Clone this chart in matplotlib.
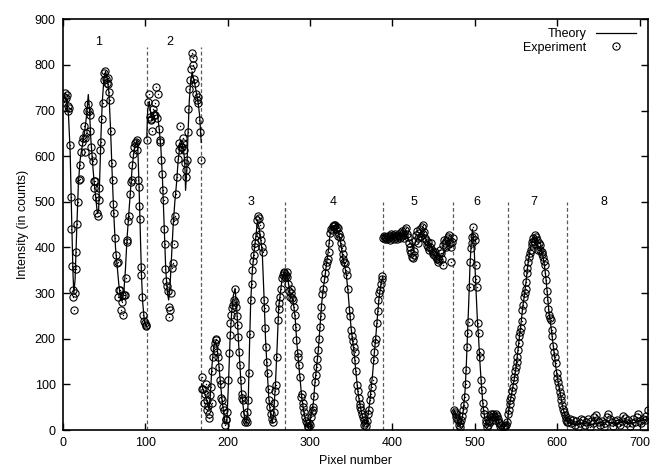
import matplotlib
matplotlib.use("Agg")
import matplotlib.pyplot as plt
from matplotlib.lines import Line2D
from matplotlib.legend_handler import HandlerTuple
import numpy as np

plt.rcParams['font.family'] = ['Liberation Sans', 'DejaVu Sans']

# ---- section boundaries and labels ----
boundaries = [102, 168, 270, 388, 474, 540, 612]
boundary_tops = [840, 840, 500, 500, 500, 500, 500]
section_labels = ['1', '2', '3', '4', '5', '6', '7', '8']
section_label_x = [44, 130, 228, 328, 426, 502, 571, 656]
section_label_y = [850, 850, 500, 500, 500, 500, 500, 500]

# ---- theory curves, one per section ----
theory1_x = [0, 3, 5, 7, 9, 11, 12.5, 13.5, 15, 17, 19, 21, 23, 25, 27, 29, 31, 32.5, 34, 36, 38, 40, 42, 43.5,
             45, 46.5, 48, 50, 52, 54, 56, 58, 60, 62, 64, 66, 68, 70, 72, 74, 76, 78, 80, 82, 84, 86, 88,
             90, 91, 92.5, 94, 95.5, 97, 99, 101]
theory1_y = [725, 730, 715, 690, 610, 450, 340, 300, 330, 440, 540, 590, 615, 635, 660, 690, 735, 700, 640, 590,
             545, 510, 475, 480, 560, 650, 720, 770, 785, 770, 740, 660, 560, 470, 400, 360, 320, 290, 282, 300,
             350, 420, 470, 520, 570, 605, 625, 635, 620, 540, 440, 340, 280, 240, 228]

theory2_x = [102, 103, 105, 107, 109, 111, 113, 115, 117, 119, 121, 123, 125, 127, 128.5, 130, 132, 134, 136,
             138, 140, 142, 144, 146, 148, 149, 150.5, 152, 153.5, 155, 157, 158.5, 160, 162, 164, 166, 168]
theory2_y = [640, 700, 720, 690, 680, 700, 700, 690, 660, 620, 550, 450, 350, 300, 285, 310, 380, 450, 500,
             540, 590, 620, 630, 620, 590, 525, 570, 650, 720, 760, 785, 770, 760, 740, 720, 690, 630]

theory3_x = [168.5, 170, 172, 174, 176, 177.5, 179, 181, 183, 185, 187, 189, 191, 193, 195, 197, 199, 201, 203,
             205, 207, 209, 211, 213, 215, 217, 219, 221, 223, 225, 226.5, 228, 230, 232, 234, 236, 238, 240,
             242, 244, 246, 248, 250, 252, 254, 256, 258, 260, 262, 264, 266, 268, 270]
theory3_y = [100, 90, 80, 70, 55, 45, 75, 140, 180, 195, 185, 150, 110, 70, 40, 15, 15, 100, 200, 260, 295,
             310, 270, 200, 140, 80, 50, 20, 15, 60, 180, 280, 350, 390, 420, 455, 445, 420, 390, 300, 200,
             130, 70, 35, 15, 40, 100, 180, 270, 300, 330, 345, 340]

theory4_x = [270, 272, 274, 276, 278, 280, 282, 284, 286, 288, 290, 292, 294, 296, 298, 300, 302, 304, 306,
             308, 310, 312, 314, 316, 318, 320, 322, 324, 326, 328, 330, 332, 334, 336, 338, 340, 342, 344,
             346, 348, 350, 352, 354, 356, 358, 360, 362, 364, 366, 368, 370, 372, 374, 376, 378, 380, 382,
             384, 386, 388]
theory4_y = [340, 340, 320, 295, 290, 275, 245, 190, 150, 110, 70, 45, 25, 12, 8, 20, 40, 60, 105, 140, 175,
             225, 275, 310, 335, 365, 390, 425, 440, 448, 448, 445, 435, 420, 400, 375, 360, 340, 305, 260,
             220, 190, 160, 120, 85, 60, 42, 25, 15, 15, 30, 55, 90, 125, 170, 210, 255, 295, 320, 335]

theory5_x = [388, 395, 400, 405, 410, 415, 420, 425, 430, 435, 440, 445, 450, 455, 460, 465, 470, 474]
theory5_y = [420, 420, 425, 425, 428, 430, 415, 400, 420, 430, 420, 405, 395, 385, 380, 395, 400, 405]

theory6_x = [474, 476, 478, 480, 482, 484, 486, 488, 489.5, 491, 492.5, 494, 495.5, 497, 498.5, 500, 501.5,
             503, 504.5, 506, 508, 510, 512, 514, 516, 518, 520, 522, 524, 526, 528, 530, 534, 538, 540]
theory6_y = [40, 35, 25, 12, 8, 20, 45, 85, 140, 210, 280, 360, 410, 440, 420, 360, 300, 240, 200, 150, 95,
             50, 25, 10, 12, 20, 30, 30, 25, 30, 20, 12, 8, 12, 25]

theory7_x = [540, 542, 544, 546, 548, 550, 552, 554, 556, 558, 560, 562, 564, 566, 568, 570, 572, 574, 576,
             578, 580, 582, 584, 586, 588, 590, 592, 594, 596, 598, 600, 602, 604, 606, 608, 610, 612]
theory7_y = [30, 55, 75, 95, 115, 140, 172, 205, 235, 270, 295, 325, 360, 385, 405, 418, 425, 420, 405, 400,
             395, 385, 365, 335, 295, 255, 230, 200, 170, 140, 115, 95, 75, 55, 40, 25, 18]

theory8_x = [612, 620, 630, 640, 650, 660, 670, 680, 690, 700, 710]
theory8_y = [18, 12, 15, 12, 15, 18, 15, 18, 15, 20, 25]

# ---- measured intensities, one per section ----
exp1_x = [1, 2, 3, 4, 5, 6, 7, 8, 9, 10, 10.5, 11, 12, 13, 13.7, 14.5, 15.5, 16.5, 17.5, 18.5, 19.5, 20.5,
          21.5, 22.5, 23.5, 24.5, 25.5, 26.5, 27.5, 28.5, 29.5, 30.5, 31.5, 32.5, 33.5, 34.5, 35.5, 36.5,
          37.5, 38.5, 39.5, 40.5, 41.5, 42.5, 43.5, 44.5, 45.5, 46.5, 47.5, 48.5, 49.5, 50.5, 51.5, 52.5,
          53.5, 54.5, 55.5, 56.5, 57.5, 58.5, 59.5, 60.5, 61.5, 62.5, 63.5, 64.5, 65.5, 66.5, 67.5, 68.5,
          69.5, 70.5, 71.5, 72.5, 73.5, 74.5, 75.5, 76.5, 77.5, 78.5, 79.5, 80.5, 81.5, 82.5, 83.5, 84.5,
          85.5, 86.5, 87.5, 88.5, 89.5, 90.5, 91.5, 92, 93, 93.7, 94.5, 95.5, 96.5, 97.5, 98.5, 99.5, 100.5,
          101.5]
exp1_y = [718, 730, 738, 728, 735, 710, 700, 705, 625, 510, 440, 360, 306, 292, 263, 300, 352, 390, 452, 500,
          548, 580, 550, 610, 630, 640, 665, 640, 610, 650, 700, 715, 700, 690, 655, 620, 600, 590, 545, 530,
          545, 510, 475, 470, 505, 530, 613, 631, 681, 716, 767, 782, 787, 770, 760, 772, 757, 740, 724, 655,
          584, 548, 496, 475, 420, 384, 367, 369, 292, 307, 306, 263, 296, 281, 252, 296, 295, 333, 416, 412,
          459, 470, 518, 544, 548, 580, 605, 620, 628, 631, 635, 613, 548, 533, 490, 462, 358, 340, 292, 252,
          240, 234, 230, 228]

exp2_x = [102.6, 103.5, 104.5, 105.5, 106.5, 107.5, 108.5, 109.5, 110.5, 111.5, 112.5, 113.5, 114.5, 115.5,
          116.5, 117.5, 118.5, 119.5, 120.5, 121.5, 122.5, 123, 124, 124.5, 125.5, 126.5, 127.5, 128.5,
          129.5, 130.5, 131.5, 132.5, 133.5, 134.5, 135.5, 136.5, 137.5, 138.5, 139.5, 140.5, 141.5, 142.5,
          143.5, 144.5, 145.5, 146.5, 147.5, 148.5, 149, 150, 150.5, 151.5, 152.5, 153.5, 154.5, 155.5,
          156.5, 157.5, 158.5, 159.5, 160.5, 161.5, 162.5, 163.5, 164.5, 165.5, 166.5, 167.5]
exp2_y = [635, 719, 737, 686, 679, 681, 655, 703, 690, 716, 691, 752, 684, 737, 660, 635, 631, 591, 560, 525,
          503, 441, 408, 352, 327, 316, 305, 270, 248, 263, 300, 356, 365, 408, 459, 470, 518, 555, 593, 613,
          628, 666, 620, 620, 640, 628, 613, 585, 570, 555, 591, 653, 703, 747, 767, 790, 827, 815, 800, 770,
          760, 737, 723, 716, 730, 679, 653, 591]

exp3_x = [168.5, 169.5, 170.5, 171.5, 172.5, 173.5, 174.5, 175.5, 176.5, 177, 177.5, 178.5, 179.5, 180.5,
          181.5, 182.5, 183.5, 184.5, 185.5, 186.5, 187.5, 188.5, 189.5, 190.5, 191.5, 192.5, 193.5, 194.5,
          195.5, 196.5, 197.5, 198.5, 199.5, 200.5, 201.5, 202.5, 203.5, 204.5, 205.5, 206.5, 207.5, 208.5,
          209.5, 210.5, 211.5, 212.5, 213, 214, 215, 216, 217, 218, 219, 220, 221, 222, 223, 224, 225, 225.6,
          226.8, 228, 229, 229.6, 231, 232, 233, 233.6, 234.5, 235.5, 236.5, 237.5, 238.8, 239.5, 240.8,
          241.5, 242.8, 244, 244.8, 245.6, 246.8, 248, 248.8, 250, 250.8, 251.5, 252.8, 253.8, 254.8, 255.8,
          256.8, 258, 258.8, 260, 260.8, 261.8, 262.8, 264, 265, 265.6, 267, 268, 268.8, 269.8]
exp3_y = [117, 91, 91, 60, 80, 100, 66, 45, 52, 26, 35, 77, 95, 60, 130, 161, 180, 190, 200, 197, 170, 161,
          139, 110, 100, 71, 66, 50, 44, 12, 25, 22, 40, 110, 168, 208, 235, 252, 267, 275, 285, 310, 280,
          270, 250, 230, 204, 170, 142, 110, 80, 70, 66, 36, 18, 22, 18, 40, 66, 124, 211, 285, 320, 351,
          370, 384, 400, 409, 426, 460, 470, 465, 449, 430, 416, 400, 391, 285, 267, 223, 182, 150, 124, 90,
          66, 50, 36, 25, 18, 40, 60, 85, 99, 161, 241, 265, 278, 292, 310, 333, 340, 345, 347, 335]

exp4_x = [270.8, 271.5, 272.5, 273.5, 274.5, 275.5, 276.5, 277.5, 278.5, 279.5, 280.5, 281.5, 282.5, 283.5,
          284.8, 285.5, 286.5, 287.8, 289, 290, 291, 292, 293, 294, 295, 296, 297, 298, 299, 300, 301, 302,
          303, 304, 305, 306, 307, 308, 309, 310, 311, 312, 313, 313.5, 315, 316, 317.5, 318.5, 319.5,
          320.5, 321.5, 322.5, 323.5, 324.5, 325.5, 326.5, 327.5, 328.5, 329.5, 330.5, 331.5, 332.5, 333.5,
          334.5, 335.5, 336.5, 337.5, 338.5, 339.5, 340.5, 341.5, 342.5, 343.5, 344.5, 346, 347.5, 348.5,
          350, 351, 352, 353, 354, 355, 356, 357, 358, 359, 360, 361, 362, 363, 364, 365, 366, 367, 368,
          369, 370.5, 371.5, 373, 374, 375, 376, 377, 378, 379, 380, 381, 382, 383, 384, 385, 386, 387,
          387.8]
exp4_y = [340, 347, 335, 321, 305, 292, 310, 300, 290, 285, 270, 252, 225, 197, 168, 160, 142, 117, 73, 80,
          60, 51, 40, 29, 20, 15, 10, 7, 15, 12, 29, 40, 45, 51, 75, 106, 120, 139, 155, 175, 200, 226, 250,
          270, 299, 310, 332, 345, 360, 369, 375, 391, 410, 431, 440, 438, 446, 450, 448, 449, 440, 445, 442,
          425, 430, 423, 410, 398, 385, 375, 369, 365, 351, 340, 310, 263, 250, 219, 205, 195, 182, 170, 153,
          130, 99, 85, 70, 58, 50, 44, 35, 28, 22, 12, 15, 8, 20, 36, 45, 66, 80, 95, 110, 153, 170, 190,
          200, 234, 260, 285, 300, 307, 320, 332, 338]

exp5_x = [388.6, 389.5, 390.5, 391.5, 392.6, 393.5, 394.5, 395.5, 396.6, 397.5, 398.5, 399.5, 400.6, 401.5,
          402.5, 403.5, 404.7, 405.5, 406.5, 407.5, 408.7, 409.5, 410.5, 411.5, 412.7, 413.5, 414.5, 415.5,
          416.7, 417.5, 418.7, 419.5, 420.7, 421.5, 422.7, 423.5, 424.7, 425.5, 426.7, 427.5, 428.7, 429.5,
          430.7, 431.5, 432.7, 433.5, 434.5, 435.5, 436.8, 437.5, 438.8, 439.5, 440.8, 441.5, 442.8, 443.5,
          444.8, 445.5, 446.8, 447.5, 448.8, 449.5, 450.8, 451.5, 452.8, 453.5, 454.8, 455.5, 456.8, 457.5,
          458.8, 459.5, 460.8, 461.5, 462.8, 463.5, 464.8, 465.5, 466.8, 467.5, 468.8, 469.5, 470.9, 471.5,
          472, 473]
exp5_y = [420, 425, 418, 422, 423, 418, 426, 420, 416, 425, 430, 420, 427, 418, 425, 430, 423, 418, 428, 425,
          431, 420, 425, 435, 431, 420, 428, 438, 442, 430, 423, 410, 401, 395, 387, 380, 376, 392, 383, 415,
          427, 435, 409, 420, 431, 440, 425, 445, 449, 430, 434, 420, 416, 405, 401, 412, 394, 400, 409, 395,
          391, 385, 383, 390, 380, 375, 369, 378, 372, 395, 387, 375, 361, 405, 416, 410, 401, 415, 423, 418,
          427, 410, 369, 400, 412, 420]

exp6_x = [474.3, 475.5, 476.7, 477.5, 478.5, 479.5, 480.5, 481.5, 482.5, 483.5, 484.5, 485.5, 486.5, 487.5,
          488.7, 489.5, 490.3, 491.5, 492.7, 493.5, 494.3, 495.6, 496.2, 496.8, 497.6, 498.5, 499.6, 500.8,
          501.5, 502.5, 503.7, 504.9, 505.7, 506.5, 507.7, 508.9, 510, 510.5, 511.5, 512.9, 513.5, 514.5,
          515.5, 516.5, 517.7, 518.5, 519.5, 520.5, 521.8, 522.8, 523.8, 524.8, 525.8, 526.8, 527.8, 528.8,
          529.8, 531, 532, 533.9, 535, 536, 537.9, 539]
exp6_y = [44, 40, 36, 28, 25, 22, 12, 7, 15, 22, 30, 44, 55, 73, 102, 131, 182, 212, 237, 314, 369, 398, 410,
          423, 445, 425, 416, 361, 330, 314, 234, 212, 172, 161, 110, 88, 60, 44, 35, 22, 15, 7, 12, 20, 18,
          30, 35, 28, 36, 30, 22, 28, 36, 30, 25, 18, 15, 10, 12, 7, 10, 8, 11, 18]

exp7_x = [540, 541, 542, 543, 544, 545, 546, 547, 548, 549, 550, 551, 551.4, 552, 553, 554, 555, 555.6, 556.5,
          557.4, 558.5, 559.8, 560.5, 561.5, 562, 562.7, 563.5, 564.7, 565.5, 566.7, 567.5, 568.8, 569.5,
          570.8, 571.5, 572.8, 573.5, 574.8, 575.5, 576.8, 577.5, 578.8, 579.5, 580.8, 581.5, 582.8, 583.5,
          584.8, 585.5, 586.8, 587.5, 588, 589, 589.8, 591, 592.2, 593, 593.8, 595, 596.2, 597, 597.8, 599,
          600, 601, 602, 603, 604, 605, 606, 607, 608, 609, 610, 611, 612]
exp7_y = [36, 45, 58, 65, 73, 85, 95, 110, 117, 130, 139, 150, 161, 175, 190, 205, 215, 223, 240, 263, 275,
          292, 300, 310, 325, 343, 355, 369, 380, 387, 395, 406, 412, 420, 415, 427, 422, 416, 405, 394, 410,
          406, 395, 391, 385, 380, 370, 361, 345, 328, 305, 285, 265, 252, 245, 241, 220, 205, 185, 172, 160,
          146, 124, 115, 106, 95, 84, 75, 66, 55, 47, 40, 33, 28, 22, 18]

exp8_x = [613, 615, 617, 619, 621, 623, 625, 627, 629, 631, 633, 635, 637, 639, 641, 643, 645, 647, 648, 650,
          652, 654, 656, 658, 660, 662, 664, 666, 668, 670, 672, 674, 676, 678, 680, 682, 684, 686, 688, 690,
          692, 694, 696, 698, 700, 702, 704, 706, 708, 710]
exp8_y = [18, 25, 15, 22, 11, 20, 7, 15, 25, 22, 12, 18, 25, 7, 20, 15, 28, 33, 22, 18, 11, 20, 7, 15, 28, 36,
          25, 18, 10, 20, 22, 15, 11, 20, 30, 26, 15, 22, 10, 15, 25, 18, 28, 36, 20, 15, 25, 22, 30, 44]

theory_sections = [(theory1_x, theory1_y), (theory2_x, theory2_y), (theory3_x, theory3_y),
                   (theory4_x, theory4_y), (theory5_x, theory5_y), (theory6_x, theory6_y),
                   (theory7_x, theory7_y), (theory8_x, theory8_y)]
exp_sections = [(exp1_x, exp1_y), (exp2_x, exp2_y), (exp3_x, exp3_y), (exp4_x, exp4_y),
                (exp5_x, exp5_y), (exp6_x, exp6_y), (exp7_x, exp7_y), (exp8_x, exp8_y)]

fig = plt.figure(figsize=(6.5, 4.68), dpi=100)
ax = fig.add_axes([0.0965, 0.081, 0.9005, 0.878])

FS = 9

for xs, ys in theory_sections:
    ax.plot(xs, ys, color='black', lw=0.9, zorder=3)

for xs, ys in exp_sections:
    ax.plot(xs, ys, ls='none', marker='o', ms=5.2, mfc='none', mec='black', mew=0.8, zorder=4)
    ax.plot(xs, ys, ls='none', marker='o', ms=1.0, mfc='black', mec='black', mew=0, zorder=4)

for bx, top in zip(boundaries, boundary_tops):
    ax.plot([bx, bx], [0, top], color='0.35', lw=0.9, dashes=(3, 2), zorder=2)

for lab, lx, ly in zip(section_labels, section_label_x, section_label_y):
    ax.text(lx, ly, lab, ha='center', va='center', fontsize=FS)

ax.set_xlim(0, 710)
ax.set_ylim(0, 900)
ax.set_xticks(np.arange(0, 701, 100))
ax.set_yticks(np.arange(0, 901, 100))
ax.tick_params(direction='in', top=True, right=True, length=5, width=1, labelsize=FS, pad=5)
for sp in ax.spines.values():
    sp.set_linewidth(1.2)

ax.set_xlabel('Pixel number', fontsize=FS, labelpad=4)
ax.set_ylabel('Intensity (in counts)', fontsize=FS, labelpad=4)

theory_handle = Line2D([], [], color='black', lw=0.9)
circ = Line2D([], [], ls='none', marker='o', ms=5.2, mfc='none', mec='black', mew=0.8)
dot = Line2D([], [], ls='none', marker='o', ms=1.0, mfc='black', mec='black', mew=0)
leg = ax.legend([theory_handle, (circ, dot)], ['Theory', 'Experiment'],
                handler_map={tuple: HandlerTuple(ndivide=1, pad=0)},
                loc='upper right', bbox_to_anchor=(0.995, 1.0), frameon=False, markerfirst=False,
                fontsize=FS, handlelength=3.2, handletextpad=0.8, labelspacing=0.15,
                borderaxespad=0.3)
for t in leg.get_texts():
    t.set_ha('right')

fig.savefig('out.png', dpi=100)
